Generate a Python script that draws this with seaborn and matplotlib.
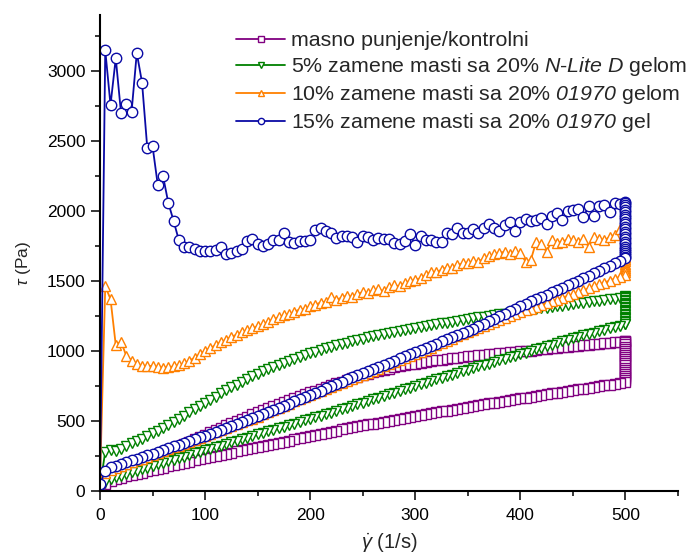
import matplotlib
matplotlib.use("Agg")
import matplotlib.pyplot as plt
from matplotlib.lines import Line2D
from matplotlib.ticker import MultipleLocator
import pandas as pd
import seaborn as sns

# shear-rate setpoints of the ramp (1/s)
shear_up = [0, 5, 10, 15, 20, 25, 30, 35, 40, 45, 50, 55, 60, 65, 70, 75, 80, 85, 90, 95,
            100, 105, 110, 115, 120, 125, 130, 135, 140, 145, 150, 155, 160, 165, 170, 175,
            180, 185, 190, 195, 200, 205, 210, 215, 220, 225, 230, 235, 240, 245, 250, 255,
            260, 265, 270, 275, 280, 285, 290, 295, 300, 305, 310, 315, 320, 325, 330, 335,
            340, 345, 350, 355, 360, 365, 370, 375, 380, 385, 390, 395, 400, 405, 410, 415,
            420, 425, 430, 435, 440, 445, 450, 455, 460, 465, 470, 475, 480, 485, 490, 495, 500]
shear_down = shear_up[::-1]
hold_rate = 500

# --- masno punjenje / kontrolni ---
ctrl_up = [20, 62, 82, 100, 118, 137, 155, 174, 192, 210,
           228, 246, 264, 281, 299, 316, 333, 350, 367, 384,
           401, 418, 434, 451, 467, 483, 499, 515, 530, 546,
           561, 576, 591, 605, 620, 634, 648, 662, 676, 689,
           702, 716, 729, 742, 755, 767, 780, 792, 804, 815,
           826, 837, 847, 856, 865, 873, 881, 889, 896, 903,
           909, 915, 921, 927, 932, 937, 942, 947, 951, 956,
           960, 964, 968, 971, 975, 978, 982, 985, 988, 992,
           995, 999, 1002, 1006, 1010, 1013, 1017, 1021, 1024, 1028,
           1032, 1035, 1039, 1043, 1047, 1050, 1054, 1058, 1061, 1065,
           1068]
ctrl_hold = [1070, 1060, 1045, 1030, 1015, 1000, 985, 970, 955, 940,
             925, 910, 895, 880, 865, 850, 835, 820, 805, 790]
ctrl_down = [775, 769, 763, 758, 752, 746, 741, 735, 729, 724,
             718, 712, 706, 701, 695, 689, 683, 677, 672, 666,
             660, 654, 648, 642, 636, 630, 624, 618, 613, 607,
             600, 594, 587, 580, 573, 567, 560, 553, 547, 540,
             533, 527, 520, 513, 507, 500, 493, 487, 480, 474,
             467, 460, 453, 445, 438, 430, 422, 414, 406, 398,
             390, 382, 374, 366, 358, 351, 343, 336, 328, 321,
             313, 305, 297, 289, 281, 273, 265, 257, 249, 241,
             233, 224, 216, 207, 199, 190, 182, 173, 165, 156,
             148, 139, 130, 121, 112, 103, 94, 84, 72, 50,
             10]

# --- 5% zamene, N-Lite D ---
nlite5_up = [30, 280, 290, 285, 300, 320, 340, 355, 372, 390,
             410, 430, 450, 470, 492, 515, 537, 560, 582, 605,
             628, 650, 672, 695, 717, 738, 758, 778, 798, 818,
             836, 853, 870, 886, 901, 916, 930, 944, 957, 970,
             982, 994, 1006, 1017, 1028, 1039, 1049, 1059, 1069, 1078,
             1087, 1096, 1104, 1112, 1120, 1128, 1135, 1142, 1149, 1156,
             1163, 1170, 1177, 1183, 1190, 1196, 1202, 1208, 1214, 1220,
             1226, 1232, 1238, 1244, 1250, 1255, 1261, 1266, 1272, 1277,
             1283, 1288, 1293, 1298, 1303, 1308, 1313, 1318, 1323, 1328,
             1333, 1338, 1343, 1348, 1353, 1358, 1363, 1368, 1373, 1378,
             1383]
nlite5_hold = [1395, 1385, 1375, 1365, 1355, 1345, 1335, 1325, 1315, 1305, 1295,
               1285, 1275, 1265, 1255, 1245, 1235, 1225, 1215, 1205, 1195]
nlite5_down = [1190, 1180, 1170, 1160, 1150, 1140, 1130, 1120, 1110, 1100,
               1090, 1079, 1067, 1056, 1044, 1033, 1021, 1010, 998, 987,
               975, 964, 953, 942, 931, 920, 909, 898, 888, 877,
               865, 853, 842, 830, 819, 807, 796, 784, 773, 761,
               749, 737, 725, 713, 701, 689, 677, 665, 653, 641,
               629, 617, 605, 593, 581, 570, 558, 547, 536, 525,
               513, 502, 490, 479, 468, 457, 446, 435, 424, 413,
               402, 390, 379, 368, 357, 345, 334, 323, 312, 300,
               289, 278, 267, 256, 244, 233, 222, 211, 199, 188,
               177, 165, 154, 142, 131, 119, 107, 95, 82, 62,
               15]

# --- 10% zamene, 01970 ---
g10_up = [60, 1460, 1370, 1040, 1065, 965, 930, 905, 890, 893,
          890, 885, 880, 882, 888, 898, 912, 930, 950, 975,
          1000, 1020, 1040, 1062, 1080, 1100, 1115, 1132, 1148, 1160,
          1175, 1190, 1208, 1225, 1240, 1255, 1262, 1280, 1295, 1300,
          1318, 1330, 1345, 1352, 1385, 1365, 1380, 1395, 1385, 1405,
          1420, 1410, 1433, 1440, 1425, 1455, 1470, 1460, 1485, 1500,
          1505, 1520, 1540, 1564, 1560, 1580, 1595, 1590, 1612, 1624,
          1630, 1640, 1636, 1660, 1675, 1690, 1700, 1707, 1690, 1710,
          1700, 1636, 1650, 1779, 1760, 1707, 1790, 1770, 1780, 1796,
          1790, 1775, 1800, 1743, 1814, 1800, 1790, 1814, 1830, 1867,
          1870]
g10_hold = [1870, 1855, 1840, 1820, 1805, 1790, 1770, 1755, 1740, 1720,
            1705, 1690, 1670, 1655, 1640, 1620, 1605, 1590, 1575, 1560]
g10_down = [1545, 1530, 1516, 1502, 1488, 1474, 1460, 1446, 1432, 1418,
            1405, 1392, 1379, 1366, 1353, 1340, 1327, 1314, 1301, 1288,
            1275, 1261, 1247, 1233, 1219, 1205, 1191, 1177, 1163, 1149,
            1135, 1119, 1103, 1087, 1071, 1055, 1039, 1023, 1007, 991,
            975, 960, 946, 931, 917, 902, 888, 873, 859, 844,
            830, 815, 801, 786, 772, 757, 743, 728, 714, 699,
            685, 669, 654, 638, 623, 607, 592, 576, 561, 545,
            530, 516, 502, 488, 474, 460, 446, 432, 418, 404,
            390, 376, 363, 349, 336, 322, 309, 295, 282, 268,
            255, 242, 229, 216, 203, 190, 177, 164, 150, 125,
            55]

# --- 15% zamene, 01970 ---
g15_up = [40, 3148, 2757, 3091, 2700, 2767, 2705, 3129, 2917, 2448,
          2462, 2184, 2248, 2057, 1929, 1791, 1743, 1743, 1729, 1712,
          1712, 1712, 1720, 1739, 1691, 1696, 1714, 1726, 1786, 1800,
          1762, 1748, 1762, 1795, 1790, 1843, 1781, 1767, 1786, 1786,
          1795, 1862, 1876, 1857, 1843, 1805, 1819, 1824, 1810, 1776,
          1819, 1810, 1790, 1805, 1800, 1800, 1771, 1762, 1786, 1834,
          1757, 1819, 1795, 1790, 1779, 1774, 1843, 1838, 1879, 1845,
          1845, 1867, 1845, 1881, 1905, 1879, 1855, 1898, 1921, 1857,
          1921, 1941, 1929, 1933, 1950, 1905, 1962, 1988, 1933, 2000,
          2005, 2010, 1957, 2033, 1962, 2033, 2041, 1993, 2057, 2050,
          2060]
g15_hold = [2055, 2040, 2025, 2005, 1990, 1970, 1955, 1940, 1920, 1905, 1885, 1870,
            1850, 1835, 1815, 1800, 1780, 1765, 1745, 1730, 1715, 1700, 1685, 1670]
g15_down = [1660, 1642, 1625, 1607, 1590, 1572, 1555, 1537, 1520, 1502,
            1485, 1468, 1452, 1435, 1419, 1402, 1386, 1369, 1353, 1336,
            1320, 1302, 1284, 1266, 1248, 1229, 1211, 1193, 1175, 1159,
            1143, 1128, 1113, 1098, 1083, 1067, 1052, 1036, 1021, 1005,
            990, 975, 960, 945, 930, 915, 900, 885, 870, 856,
            841, 826, 811, 795, 779, 763, 747, 731, 715, 699,
            684, 668, 653, 638, 623, 608, 593, 578, 563, 548,
            533, 518, 503, 488, 474, 460, 446, 433, 420, 407,
            394, 381, 368, 355, 342, 329, 316, 303, 290, 277,
            264, 252, 240, 228, 216, 204, 192, 180, 166, 143,
            45]

labels = [
    "masno punjenje/kontrolni",
    r"5% zamene masti sa 20% $\mathsf{N}$-$\mathsf{Lite\ D}$ gelom",
    r"10% zamene masti sa 20% $\mathsf{01970}$ gelom",
    r"15% zamene masti sa 20% $\mathsf{01970}$ gel",
]
colors = ["#800080", "#008000", "#FF8000", "#0A0AA5"]
markers = ["s", "v", "^", "o"]
msizes = [6.5, 7.5, 7.5, 7.5]

series = [
    (ctrl_up, ctrl_hold, ctrl_down),
    (nlite5_up, nlite5_hold, nlite5_down),
    (g10_up, g10_hold, g10_down),
    (g15_up, g15_hold, g15_down),
]

sns.set_style("ticks")
plt.rcParams["font.family"] = ["Liberation Sans", "DejaVu Sans"]
plt.rcParams["mathtext.fontset"] = "custom"
plt.rcParams["mathtext.rm"] = "Liberation Sans"
plt.rcParams["mathtext.it"] = "Liberation Sans:italic"
plt.rcParams["mathtext.sf"] = "Liberation Sans:italic"
plt.rcParams["mathtext.bf"] = "Liberation Sans:bold"

fig = plt.figure(figsize=(6.92, 5.57), dpi=100)
ax = fig.add_axes([100 / 692, 1 - 490.7 / 557, 578 / 692, 475.7 / 557])

handles = []
for (up, hold, down), lab, col, mk, ms in zip(series, labels, colors, markers, msizes):
    df = pd.DataFrame({
        "rate": shear_up + [hold_rate] * len(hold) + shear_down,
        "tau": up + hold + down,
    })
    sns.lineplot(data=df, x="rate", y="tau", sort=False, estimator=None, ax=ax,
                 color=col, linewidth=1.3, marker=mk, markersize=ms,
                 markerfacecolor="white", markeredgecolor=col, markeredgewidth=1.0)
    handles.append(Line2D([], [], color=col, linewidth=1.3, marker=mk, markersize=ms * 0.6,
                          markerfacecolor="white", markeredgecolor=col, markeredgewidth=1.0))

ax.set_xlim(0, 550)
ax.set_ylim(0, 3400)
ax.xaxis.set_major_locator(MultipleLocator(100))
ax.xaxis.set_minor_locator(MultipleLocator(50))
ax.yaxis.set_major_locator(MultipleLocator(500))
ax.yaxis.set_minor_locator(MultipleLocator(250))
for side in ("top", "right"):
    ax.spines[side].set_visible(False)
for side in ("left", "bottom"):
    ax.spines[side].set_linewidth(1.5)
    ax.spines[side].set_color("black")
ax.tick_params(axis="both", which="major", direction="out", length=6.5, width=1.1,
               labelsize=12.5, color="black", labelcolor="black")
ax.tick_params(axis="both", which="minor", direction="out", length=3.5, width=1.1, color="black")
ax.tick_params(axis="x", which="major", pad=6)
ax.tick_params(axis="y", which="major", pad=4)

ax.set_xlabel(r"$\dot{\gamma}$ (1/s)", fontsize=14.5, labelpad=6)
ax.set_ylabel(r"$\tau$ (Pa)", fontsize=12.5)
ax.yaxis.set_label_coords(-67 / 578, 0.477)

fig.legend(handles, labels, loc="upper left", bbox_to_anchor=(236 / 692, 1 - 31 / 557),
           frameon=False, fontsize=15.4, handlelength=2.3, handletextpad=0.25,
           labelspacing=0.24, borderpad=0, borderaxespad=0)

fig.savefig("out.png", dpi=100)
